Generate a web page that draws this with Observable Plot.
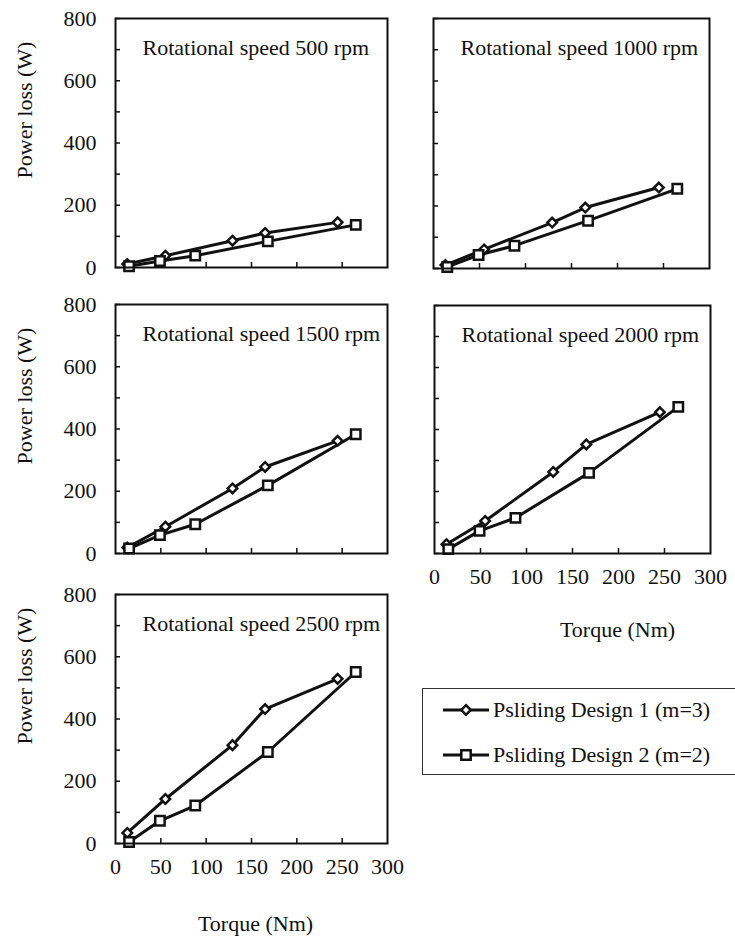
<!DOCTYPE html>
<html><head><meta charset="utf-8">
<script src="https://cdn.jsdelivr.net/npm/d3@7"></script>
<script src="https://cdn.jsdelivr.net/npm/@observablehq/plot@0.6"></script>
<style>
body{margin:0;background:#fff;}
#chart{position:relative;width:735px;height:937px;overflow:hidden;background:#fff;font-family:"Liberation Serif","Times New Roman",serif;}
#chart svg.p{position:absolute;}
#chart svg.p text{font-family:"Liberation Serif","Times New Roman",serif !important;}
#legend{position:absolute;left:422px;top:688px;width:330px;height:87px;border:1.5px solid #333;box-sizing:border-box;}
.li{position:absolute;left:20px;height:24px;display:flex;align-items:center;font-size:22px;color:#111;white-space:nowrap;}
.li svg{margin-right:4px;}
</style></head><body><div id="chart"><div id="legend"></div></div>
<script>
// ---- data ----
const seriesNames = ["Psliding Design 1 (m=3)", "Psliding Design 2 (m=2)"];
const torque1 = [13, 55, 129, 165, 245];
const torque2 = [15, 49, 88, 168, 265];
const speeds = [500, 1000, 1500, 2000, 2500];
const loss1_500  = [11, 38, 86, 111, 145];
const loss2_500  = [4, 21, 38, 84, 137];
const loss1_1000 = [11, 61, 147, 195, 259];
const loss2_1000 = [5, 43, 73, 153, 255];
const loss1_1500 = [19, 86, 209, 278, 362];
const loss2_1500 = [16, 59, 94, 219, 383];
const loss1_2000 = [30, 105, 263, 352, 456];
const loss2_2000 = [14, 73, 115, 260, 473];
const loss1_2500 = [34, 143, 316, 432, 529];
const loss2_2500 = [5, 73, 122, 294, 551];
const yLabelTicks = [0, 200, 400, 600, 800];
const yMinorTicks = [0, 100, 200, 300, 400, 500, 600, 700, 800];
const xLabelTicks = [0, 50, 100, 150, 200, 250, 300];
const xInnerTicks = [50, 100, 150, 200, 250];
const yTitle = "Power loss (W)";
const xTitle = "Torque (Nm)";

const losses1 = [loss1_500, loss1_1000, loss1_1500, loss1_2000, loss1_2500];
const losses2 = [loss2_500, loss2_1000, loss2_1500, loss2_2000, loss2_2500];

// ---- layout (frame boxes in page pixels) ----
const layout = [
  {left:115, top:18,  right:387, bottom:267, yLab:true,  xLab:false},
  {left:433, top:18,  right:709, bottom:268, yLab:false, xLab:false},
  {left:115, top:304, right:387, bottom:553, yLab:true,  xLab:false},
  {left:434, top:305, right:710, bottom:553, yLab:false, xLab:true, xdx:45, xdy:76},
  {left:115, top:594, right:387, bottom:843, yLab:true,  xLab:true, xdx:4,  xdy:80, ydy:-43}
];

const chart = document.getElementById("chart");
const font = "Liberation Serif";

speeds.forEach((s, i) => {
  const L = layout[i];
  const d1 = torque1.map((t, j) => ({torque: t, loss: losses1[i][j]}));
  const d2 = torque2.map((t, j) => ({torque: t, loss: losses2[i][j]}));
  const fw = L.right - L.left, fh = L.bottom - L.top;
  const ML = L.left < 300 ? L.left : 40, MT = 12, MR = 25, MB = L.xLab ? 100 : 14;
  const marks = [
    Plot.tickY(yMinorTicks, {y: d => d, insetRight: fw - 5, strokeWidth: 1.5, stroke: "#111"}),
    Plot.tickX(xInnerTicks, {x: d => d, insetTop: fh - 5, strokeWidth: 1.5, stroke: "#111"}),
    Plot.line(d1, {x: "torque", y: "loss", stroke: "#111", strokeWidth: 3}),
    Plot.line(d2, {x: "torque", y: "loss", stroke: "#111", strokeWidth: 3}),
    Plot.dot(d1, {x: "torque", y: "loss", symbol: "diamond2", r: 4.3, fill: "white", stroke: "#111", strokeWidth: 2.5}),
    Plot.dot(d2, {x: "torque", y: "loss", symbol: "square", r: 5.3, fill: "white", stroke: "#111", strokeWidth: 2.5}),
    Plot.frame({stroke: "#111", strokeWidth: 2}),
    Plot.text([`Rotational speed ${s} rpm`], {frameAnchor: "top-left", textAnchor: "start", lineAnchor: "middle", dx: 27, dy: 29, fill: "#111", fontFamily: font, fontSize: 22})
  ];
  if (L.yLab) {
    marks.push(Plot.axisY(yLabelTicks, {tickSize: 0, tickPadding: 19, label: null, fill: "#111", fontFamily: font, fontSize: 22}));
    marks.push(Plot.text([yTitle], {frameAnchor: "left", rotate: -90, textAnchor: "middle", lineAnchor: "middle", dx: -(L.left - 24), dy: L.ydy ?? -33, fill: "#111", fontFamily: font, fontSize: 22}));
  }
  if (L.xLab) {
    marks.push(Plot.axisX(xLabelTicks, {tickSize: 0, tickPadding: 15, label: null, fill: "#111", fontFamily: font, fontSize: 22}));
    marks.push(Plot.text([xTitle], {frameAnchor: "bottom", textAnchor: "middle", lineAnchor: "middle", dx: L.xdx, dy: L.xdy, fill: "#111", fontFamily: font, fontSize: 22}));
  }
  const svg = Plot.plot({
    width: ML + fw + MR,
    height: MT + fh + MB,
    marginLeft: ML, marginRight: MR, marginTop: MT, marginBottom: MB,
    x: {domain: [0, 300], axis: null},
    y: {domain: [0, 800], axis: null},
    style: {fontFamily: font, fontSize: "22px", background: "transparent", overflow: "visible", color: "#111"},
    marks
  });
  svg.classList.add("p");
  svg.style.left = (L.left - ML) + "px";
  svg.style.top = (L.top - MT) + "px";
  chart.appendChild(svg);
});

// ---- legend ----
const legend = d3.select("#legend");
const symbols = [d3.symbolDiamond2, d3.symbolSquare];
const sizes = [Math.PI * 4.3 * 4.3, Math.PI * 5.3 * 5.3];
seriesNames.forEach((name, i) => {
  const row = legend.append("div").attr("class", "li").style("top", (i === 0 ? 9 : 54) + "px");
  const sw = row.append("svg").attr("width", 46).attr("height", 20);
  sw.append("line").attr("x1", 0).attr("x2", 46).attr("y1", 10).attr("y2", 10).attr("stroke", "#111").attr("stroke-width", 3);
  sw.append("path").attr("d", d3.symbol(symbols[i], sizes[i])()).attr("transform", "translate(23,10)")
    .attr("fill", "white").attr("stroke", "#111").attr("stroke-width", 2.5);
  row.append("span").text(name);
});
</script></body></html>
